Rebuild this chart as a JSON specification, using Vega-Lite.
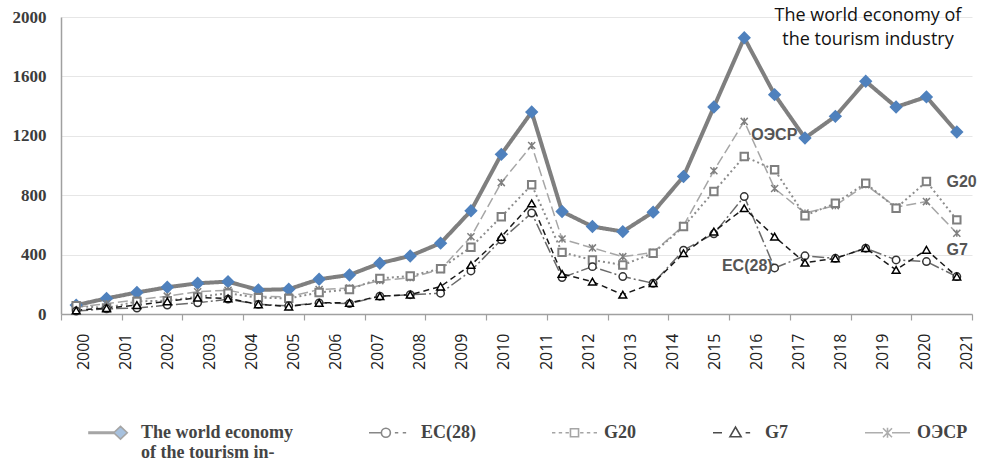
{
  "$schema": "https://vega.github.io/schema/vega-lite/v6.json",
  "width": 911,
  "height": 297,
  "autosize": {"type": "none"},
  "padding": {"left": 61, "top": 17, "right": 14, "bottom": 148},
  "background": "white",
  "config": {"view": {"stroke": null}},
  "title": {
    "text": ["The world economy of", "the tourism industry"],
    "anchor": "end", "align": "center", "frame": "group",
    "dx": -104, "dy": 41, "offset": 0, "lineHeight": 24,
    "font": "Open Sans", "fontSize": 18, "fontWeight": "normal", "color": "#111111"
  },
  "datasets": {
    "series": [
      {"s":"The world economy of the tourism industry","i":1,"v":60},{"s":"The world economy of the tourism industry","i":2,"v":105},{"s":"The world economy of the tourism industry","i":3,"v":145},{"s":"The world economy of the tourism industry","i":4,"v":180},{"s":"The world economy of the tourism industry","i":5,"v":207},{"s":"The world economy of the tourism industry","i":6,"v":218},{"s":"The world economy of the tourism industry","i":7,"v":162},{"s":"The world economy of the tourism industry","i":8,"v":167},{"s":"The world economy of the tourism industry","i":9,"v":234},{"s":"The world economy of the tourism industry","i":10,"v":263},{"s":"The world economy of the tourism industry","i":11,"v":342},{"s":"The world economy of the tourism industry","i":12,"v":391},{"s":"The world economy of the tourism industry","i":13,"v":477},{"s":"The world economy of the tourism industry","i":14,"v":695},{"s":"The world economy of the tourism industry","i":15,"v":1075},{"s":"The world economy of the tourism industry","i":16,"v":1360},{"s":"The world economy of the tourism industry","i":17,"v":690},{"s":"The world economy of the tourism industry","i":18,"v":589},{"s":"The world economy of the tourism industry","i":19,"v":555},{"s":"The world economy of the tourism industry","i":20,"v":686},{"s":"The world economy of the tourism industry","i":21,"v":926},{"s":"The world economy of the tourism industry","i":22,"v":1394},{"s":"The world economy of the tourism industry","i":23,"v":1860},{"s":"The world economy of the tourism industry","i":24,"v":1477},{"s":"The world economy of the tourism industry","i":25,"v":1185},{"s":"The world economy of the tourism industry","i":26,"v":1331},{"s":"The world economy of the tourism industry","i":27,"v":1567},{"s":"The world economy of the tourism industry","i":28,"v":1394},{"s":"The world economy of the tourism industry","i":29,"v":1462},{"s":"The world economy of the tourism industry","i":30,"v":1226},
      {"s":"ОЭСР","i":1,"v":45},{"s":"ОЭСР","i":2,"v":70},{"s":"ОЭСР","i":3,"v":95},{"s":"ОЭСР","i":4,"v":120},{"s":"ОЭСР","i":5,"v":150},{"s":"ОЭСР","i":6,"v":160},{"s":"ОЭСР","i":7,"v":120},{"s":"ОЭСР","i":8,"v":115},{"s":"ОЭСР","i":9,"v":165},{"s":"ОЭСР","i":10,"v":175},{"s":"ОЭСР","i":11,"v":225},{"s":"ОЭСР","i":12,"v":245},{"s":"ОЭСР","i":13,"v":300},{"s":"ОЭСР","i":14,"v":520},{"s":"ОЭСР","i":15,"v":885},{"s":"ОЭСР","i":16,"v":1135},{"s":"ОЭСР","i":17,"v":505},{"s":"ОЭСР","i":18,"v":445},{"s":"ОЭСР","i":19,"v":386},{"s":"ОЭСР","i":20,"v":415},{"s":"ОЭСР","i":21,"v":595},{"s":"ОЭСР","i":22,"v":965},{"s":"ОЭСР","i":23,"v":1297},{"s":"ОЭСР","i":24,"v":845},{"s":"ОЭСР","i":25,"v":680},{"s":"ОЭСР","i":26,"v":730},{"s":"ОЭСР","i":27,"v":870},{"s":"ОЭСР","i":28,"v":720},{"s":"ОЭСР","i":29,"v":757},{"s":"ОЭСР","i":30,"v":544},
      {"s":"G20","i":1,"v":55},{"s":"G20","i":2,"v":40},{"s":"G20","i":3,"v":85},{"s":"G20","i":4,"v":90},{"s":"G20","i":5,"v":115},{"s":"G20","i":6,"v":140},{"s":"G20","i":7,"v":110},{"s":"G20","i":8,"v":105},{"s":"G20","i":9,"v":145},{"s":"G20","i":10,"v":165},{"s":"G20","i":11,"v":240},{"s":"G20","i":12,"v":256},{"s":"G20","i":13,"v":305},{"s":"G20","i":14,"v":450},{"s":"G20","i":15,"v":655},{"s":"G20","i":16,"v":870},{"s":"G20","i":17,"v":415},{"s":"G20","i":18,"v":364},{"s":"G20","i":19,"v":330},{"s":"G20","i":20,"v":409},{"s":"G20","i":21,"v":589},{"s":"G20","i":22,"v":825},{"s":"G20","i":23,"v":1061},{"s":"G20","i":24,"v":971},{"s":"G20","i":25,"v":662},{"s":"G20","i":26,"v":746},{"s":"G20","i":27,"v":881},{"s":"G20","i":28,"v":712},{"s":"G20","i":29,"v":892},{"s":"G20","i":30,"v":634},
      {"s":"EC(28)","i":1,"v":20},{"s":"EC(28)","i":2,"v":35},{"s":"EC(28)","i":3,"v":40},{"s":"EC(28)","i":4,"v":60},{"s":"EC(28)","i":5,"v":75},{"s":"EC(28)","i":6,"v":100},{"s":"EC(28)","i":7,"v":65},{"s":"EC(28)","i":8,"v":55},{"s":"EC(28)","i":9,"v":75},{"s":"EC(28)","i":10,"v":70},{"s":"EC(28)","i":11,"v":120},{"s":"EC(28)","i":12,"v":130},{"s":"EC(28)","i":13,"v":140},{"s":"EC(28)","i":14,"v":290},{"s":"EC(28)","i":15,"v":500},{"s":"EC(28)","i":16,"v":680},{"s":"EC(28)","i":17,"v":245},{"s":"EC(28)","i":18,"v":319},{"s":"EC(28)","i":19,"v":252},{"s":"EC(28)","i":20,"v":207},{"s":"EC(28)","i":21,"v":430},{"s":"EC(28)","i":22,"v":540},{"s":"EC(28)","i":23,"v":791},{"s":"EC(28)","i":24,"v":310},{"s":"EC(28)","i":25,"v":392},{"s":"EC(28)","i":26,"v":375},{"s":"EC(28)","i":27,"v":443},{"s":"EC(28)","i":28,"v":364},{"s":"EC(28)","i":29,"v":353},{"s":"EC(28)","i":30,"v":252},
      {"s":"G7","i":1,"v":25},{"s":"G7","i":2,"v":40},{"s":"G7","i":3,"v":60},{"s":"G7","i":4,"v":85},{"s":"G7","i":5,"v":110},{"s":"G7","i":6,"v":105},{"s":"G7","i":7,"v":65},{"s":"G7","i":8,"v":50},{"s":"G7","i":9,"v":75},{"s":"G7","i":10,"v":75},{"s":"G7","i":11,"v":120},{"s":"G7","i":12,"v":130},{"s":"G7","i":13,"v":185},{"s":"G7","i":14,"v":330},{"s":"G7","i":15,"v":520},{"s":"G7","i":16,"v":745},{"s":"G7","i":17,"v":270},{"s":"G7","i":18,"v":218},{"s":"G7","i":19,"v":130},{"s":"G7","i":20,"v":207},{"s":"G7","i":21,"v":409},{"s":"G7","i":22,"v":555},{"s":"G7","i":23,"v":712},{"s":"G7","i":24,"v":521},{"s":"G7","i":25,"v":345},{"s":"G7","i":26,"v":375},{"s":"G7","i":27,"v":443},{"s":"G7","i":28,"v":297},{"s":"G7","i":29,"v":432},{"s":"G7","i":30,"v":252}
    ],
    "labels": [
      {"s":"ОЭСР","i":23,"v":1297,"t":"ОЭСР"},
      {"s":"G20","i":29,"v":892,"t":"G20"},
      {"s":"G7","i":29,"v":432,"t":"G7"},
      {"s":"EC(28)","i":24,"v":310,"t":"EC(28)"}
    ],
    "years": [
      {"y":2000},{"y":2001},{"y":2002},{"y":2003},{"y":2004},{"y":2005},{"y":2006},{"y":2007},{"y":2008},{"y":2009},{"y":2010},{"y":2011},{"y":2012},{"y":2013},{"y":2014},{"y":2015},{"y":2016},{"y":2017},{"y":2018},{"y":2019},{"y":2020},{"y":2021}
    ]
  },
  "layer": [
    {
      "layer": [
        {
          "data": {"name": "series"},
          "mark": {"type": "line"},
          "encoding": {
            "x": {"field": "i", "type": "quantitative",
              "scale": {"domain": [0.5, 30.5], "nice": false, "zero": false},
              "axis": {"orient": "bottom", "values": [0.5,1.5,2.5,3.5,4.5,5.5,6.5,7.5,8.5,9.5,10.5,11.5,12.5,13.5,14.5,15.5,16.5,17.5,18.5,19.5,20.5,21.5,22.5,23.5,24.5,25.5,26.5,27.5,28.5,29.5,30.5],
                "labels": false, "grid": false, "domainColor": "#a0a0a0", "domainWidth": 1.5, "tickColor": "#a0a0a0", "tickWidth": 1.2, "tickSize": 6, "title": null}},
            "y": {"field": "v", "type": "quantitative",
              "scale": {"domain": [0, 2000], "nice": false},
              "axis": {"values": [0,200,400,600,800,1000,1200,1400,1600,1800,2000], "format": "d", "labelOverlap": false, "grid": true, "gridColor": "#e6e6e6", "domain": true, "domainColor": "#a0a0a0", "domainWidth": 1.5, "ticks": false,
                "labelFont": "Liberation Serif", "labelFontSize": 17, "labelFontWeight": "bold", "labelColor": "#3c3c3c", "labelPadding": 15, "title": null}},
            "color": {"field": "s", "type": "nominal",
              "scale": {"domain": ["The world economy of the tourism industry","EC(28)","G20","G7","ОЭСР"], "range": ["#7f7f7f","#6a6a6a","#8c8c8c","#1a1a1a","#a6a6a6"]},
              "legend": null},
            "strokeDash": {"field": "s", "type": "nominal",
              "scale": {"domain": ["The world economy of the tourism industry","EC(28)","G20","G7","ОЭСР"], "range": [[1,0],[12,3,2,3],[2,3],[6,4],[10,4]]},
              "legend": null},
            "strokeWidth": {"field": "s", "type": "nominal",
              "scale": {"type": "ordinal", "domain": ["The world economy of the tourism industry","EC(28)","G20","G7","ОЭСР"], "range": [4,1.5,2,1.5,1.5]},
              "legend": null}
          }
        },
        {
          "data": {"name": "series"},
          "mark": {"type": "point", "opacity": 1},
          "encoding": {
            "x": {"field": "i", "type": "quantitative"},
            "y": {"field": "v", "type": "quantitative"},
            "shape": {"field": "s", "type": "nominal",
              "scale": {"domain": ["The world economy of the tourism industry","EC(28)","G20","G7","ОЭСР"], "range": ["diamond","circle","square","triangle-up","M-1,-1L1,1M-1,1L1,-1M0,-1V1"]},
              "legend": null},
            "fill": {"field": "s", "type": "nominal",
              "scale": {"domain": ["The world economy of the tourism industry","EC(28)","G20","G7","ОЭСР"], "range": ["#4f81bd","#ffffff","#ffffff","#ffffff","transparent"]},
              "legend": null},
            "stroke": {"field": "s", "type": "nominal",
              "scale": {"domain": ["The world economy of the tourism industry","EC(28)","G20","G7","ОЭСР"], "range": ["#4f81bd","#333333","#7f7f7f","#000000","#7f7f7f"]},
              "legend": null},
            "size": {"field": "s", "type": "nominal",
              "scale": {"type": "ordinal", "domain": ["The world economy of the tourism industry","EC(28)","G20","G7","ОЭСР"], "range": [60,55,55,60,50]},
              "legend": null},
            "strokeWidth": {"field": "s", "type": "nominal",
              "scale": {"type": "ordinal", "domain": ["The world economy of the tourism industry","EC(28)","G20","G7","ОЭСР"], "range": [1,1.5,1.5,2.2,1.5]},
              "legend": null}
          }
        },
        {
          "data": {"name": "labels"},
          "transform": [{"filter": "datum.s == 'ОЭСР'"}],
          "mark": {"type": "text", "align": "left", "baseline": "middle", "dx": 7, "dy": 14, "font": "Liberation Sans", "fontSize": 16, "fontWeight": "bold", "fill": "#555555"},
          "encoding": {"x": {"field": "i", "type": "quantitative"}, "y": {"field": "v", "type": "quantitative"}, "text": {"field": "t"}}
        },
        {
          "data": {"name": "labels"},
          "transform": [{"filter": "datum.s == 'G20' || datum.s == 'G7'"}],
          "mark": {"type": "text", "align": "left", "baseline": "middle", "dx": 20, "dy": 0, "font": "Liberation Sans", "fontSize": 16, "fontWeight": "bold", "fill": "#555555"},
          "encoding": {"x": {"field": "i", "type": "quantitative"}, "y": {"field": "v", "type": "quantitative"}, "text": {"field": "t"}}
        },
        {
          "data": {"name": "labels"},
          "transform": [{"filter": "datum.s == 'EC(28)'"}],
          "mark": {"type": "text", "align": "right", "baseline": "middle", "dx": -2, "dy": -2, "font": "Liberation Sans", "fontSize": 16, "fontWeight": "bold", "fill": "#555555"},
          "encoding": {"x": {"field": "i", "type": "quantitative"}, "y": {"field": "v", "type": "quantitative"}, "text": {"field": "t"}}
        }
      ]
    },
    {
      "data": {"name": "years"},
      "mark": {"type": "point", "opacity": 0},
      "encoding": {
        "x": {"field": "y", "type": "quantitative",
          "scale": {"domain": [1999.477, 2021.119], "nice": false, "zero": false},
          "axis": {"orient": "bottom", "values": [2000,2001,2002,2003,2004,2005,2006,2007,2008,2009,2010,2011,2012,2013,2014,2015,2016,2017,2018,2019,2020,2021],
            "format": "d", "labelAngle": -90, "domain": false, "ticks": false, "grid": false, "title": null,
            "labelFont": "Open Sans", "labelFontSize": 16, "labelColor": "#222222", "labelPadding": 19,
            "labelOverlap": false, "labelFlush": false, "labelBound": false}}
      }
    },
    {
      "data": {"values": []},
      "mark": {"type": "point"},
      "encoding": {
        "shape": {"field": "s", "type": "nominal",
          "scale": {"domain": ["The world economy of the tourism industry","EC(28)","G20","G7","ОЭСР"],
            "range": ["M-1,-0.03H0.1V0.03H-1ZM0.4,-0.28L0.7,0L0.4,0.28L0.1,0Z", "M-1,0H-0.45M-0.05,0A0.2,0.2 0 1,1 -0.45,0A0.2,0.2 0 1,1 -0.05,0M0.15,0H0.3M0.5,0H0.65", "M-1,0H-0.85M-0.7,0H-0.55M-0.4,0H-0.25M-0.18,-0.18H0.18V0.18H-0.18ZM0.25,0H0.4M0.55,0H0.7M0.85,0H1", "M-1,0H-0.6M-0.25,0.18L0,-0.25L0.25,0.18ZM0.45,0H0.65", "M-1,0H-0.2M0.2,0H1M-0.2,-0.2L0.2,0.2M-0.2,0.2L0.2,-0.2M0,-0.22V0.22"]},
          "legend": {
            "title": null, "orient": "none", "legendX": 27, "legendY": 392, "direction": "horizontal", "padding": 0,
            "symbolSize": 2025, "symbolStrokeWidth": 1.6, "labelLimit": 400, "columnPadding": 72, "labelOffset": 6,
            "labelFont": "Liberation Serif", "labelFontSize": 18, "labelFontWeight": "bold", "labelColor": "#444444",
            "labelExpr": "datum.label == 'The world economy of the tourism industry' ? ['The world economy', 'of the tourism in-'] : [datum.label, ' ']"
          }},
        "stroke": {"field": "s", "type": "nominal",
          "scale": {"domain": ["The world economy of the tourism industry","EC(28)","G20","G7","ОЭСР"], "range": ["#7f7f7f","#555555","#808080","#000000","#8c8c8c"]},
          "legend": {
            "title": null, "orient": "none", "legendX": 27, "legendY": 392, "direction": "horizontal", "padding": 0,
            "symbolSize": 2025, "symbolStrokeWidth": 1.6, "labelLimit": 400, "columnPadding": 72, "labelOffset": 6,
            "labelFont": "Liberation Serif", "labelFontSize": 18, "labelFontWeight": "bold", "labelColor": "#444444",
            "labelExpr": "datum.label == 'The world economy of the tourism industry' ? ['The world economy', 'of the tourism in-'] : [datum.label, ' ']"
          }},
        "fill": {"field": "s", "type": "nominal",
          "scale": {"domain": ["The world economy of the tourism industry","EC(28)","G20","G7","ОЭСР"], "range": ["#4f81bd","#ffffff","#ffffff","#ffffff","transparent"]},
          "legend": {
            "title": null, "orient": "none", "legendX": 27, "legendY": 392, "direction": "horizontal", "padding": 0,
            "symbolSize": 2025, "symbolStrokeWidth": 1.6, "labelLimit": 400, "columnPadding": 72, "labelOffset": 6,
            "labelFont": "Liberation Serif", "labelFontSize": 18, "labelFontWeight": "bold", "labelColor": "#444444",
            "labelExpr": "datum.label == 'The world economy of the tourism industry' ? ['The world economy', 'of the tourism in-'] : [datum.label, ' ']"
          }}
      }
    }
  ],
  "resolve": {
    "scale": {"x": "independent", "shape": "independent", "stroke": "independent", "fill": "independent", "size": "independent", "strokeWidth": "independent", "color": "independent", "strokeDash": "independent"},
    "axis": {"x": "independent"},
    "legend": {"shape": "independent", "stroke": "independent", "fill": "independent"}
  }
}
